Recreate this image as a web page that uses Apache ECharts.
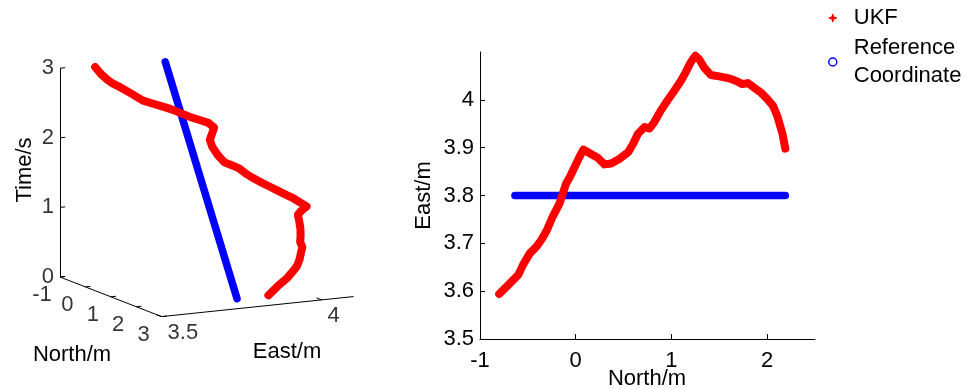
<!DOCTYPE html>
<html>
<head>
<meta charset="utf-8">
<script src="https://cdn.jsdelivr.net/npm/echarts@6/dist/echarts.min.js"></script>
<style>
  html, body { margin: 0; padding: 0; background: #fff; }
  #chart { width: 966px; height: 389px; }
</style>
</head>
<body>
<div id="chart"></div>
<script>
// UKF track
const ukfNorth = [-0.80, -0.74, -0.67, -0.60, -0.55, -0.48, -0.41, -0.36, -0.30, -0.24, -0.17, -0.10, -0.06, -0.01, 0.04, 0.08, 0.15, 0.23, 0.30, 0.37, 0.46, 0.55, 0.60, 0.65, 0.72, 0.77, 0.82, 0.89, 0.96, 1.03, 1.10, 1.15, 1.20, 1.25, 1.29, 1.34, 1.41, 1.50, 1.60, 1.67, 1.74, 1.80, 1.86, 1.93, 2.00, 2.06, 2.11, 2.16, 2.19]
const ukfEast = [3.594, 3.606, 3.620, 3.634, 3.655, 3.679, 3.693, 3.707, 3.728, 3.756, 3.783, 3.825, 3.839, 3.860, 3.881, 3.896, 3.888, 3.879, 3.865, 3.867, 3.877, 3.891, 3.908, 3.929, 3.943, 3.940, 3.953, 3.978, 3.999, 4.019, 4.040, 4.058, 4.078, 4.092, 4.085, 4.068, 4.052, 4.049, 4.045, 4.040, 4.033, 4.035, 4.026, 4.016, 4.002, 3.988, 3.964, 3.929, 3.898]
const ukfTime = [3.00, 2.91, 2.83, 2.77, 2.71, 2.63, 2.58, 2.53, 2.49, 2.44, 2.39, 2.29, 2.26, 2.22, 2.18, 2.11, 2.09, 2.08, 1.98, 1.89, 1.78, 1.68, 1.64, 1.59, 1.52, 1.51, 1.48, 1.40, 1.34, 1.28, 1.22, 1.17, 1.10, 1.05, 1.04, 1.01, 0.97, 0.90, 0.80, 0.72, 0.64, 0.57, 0.50, 0.42, 0.34, 0.30, 0.21, 0.11, 0.00]

// reference coordinate (end points)
const refNorth = [-0.635, 2.19]
const refEast = [3.8, 3.8]
const refTime = [3, 0]

// tick labels
const northTicks3d = [-1, 0, 1, 2, 3]
const eastTicks3d = [3.5, 4]
const timeTicks = [0, 1, 2, 3]
const northTicks2d = [-1, 0, 1, 2]
const eastTicks2d = [3.5, 3.6, 3.7, 3.8, 3.9, 4]

const northRange = [-1, 3]
const eastRange = [3.5, 4.1]
const timeRange = [0, 3]

const FONT = 'Liberation Sans, Arial, sans-serif'
const FS = 22
const RED = '#ff0000'
const BLUE = '#0000ff'

// simple oblique projection for the 3D panel (no echarts-gl available)
function proj(n, e, t) {
  const dn = n - northRange[0]
  const de = e - eastRange[0]
  return [dn * 25.4 + de * 320, -dn * 9.9 + de * 33.4 + t * 69.6]
}

const ukf3d = ukfNorth.map((n, i) => proj(n, ukfEast[i], ukfTime[i]))
const ref3d = refNorth.map((n, i) => proj(n, refEast[i], refTime[i]))
const ukf2d = ukfNorth.map((n, i) => [n, ukfEast[i]])
const ref2d = refNorth.map((n, i) => [n, refEast[i]])

// box axes + ticks of the 3D panel
const n0 = northRange[0], n1 = northRange[1], e0 = eastRange[0], e1 = eastRange[1]
const axisSegs = [
  [proj(n0, e0, timeRange[0]), proj(n0, e0, timeRange[1])],
  [proj(n0, e0, 0), proj(n1, e0, 0)],
  [proj(n1, e0, 0), proj(n1, e1, 0)]
]
timeTicks.forEach(t => axisSegs.push([proj(n0, e0, t), proj(n0, e0 + 0.016, t)]))
northTicks3d.forEach(n => axisSegs.push([proj(n, e0, 0), proj(n, e0 + 0.016, 0)]))
eastTicks3d.forEach(e => axisSegs.push([proj(n1, e, 0), proj(n1 - 0.2, e, 0)]))

const tickLabels3d = []
timeTicks.forEach(t => tickLabels3d.push({ value: proj(n0, e0, t), text: String(t), align: 'right', offset: [-6, 0] }))
northTicks3d.forEach(n => tickLabels3d.push({ value: proj(n, e0, 0), text: String(n), align: 'center', offset: [-18, 18] }))
eastTicks3d.forEach(e => tickLabels3d.push({ value: proj(n1, e, 0), text: String(e), align: 'left', offset: [6, 16] }))

const chart = echarts.init(document.getElementById('chart'))

const titleStyle = (text) => ({ text: text, fontSize: FS, fontFamily: FONT, fill: '#000', textAlign: 'center', textVerticalAlign: 'middle' })

const option = {
  animation: false,
  backgroundColor: '#fff',
  textStyle: { fontFamily: FONT },
  legend: {
    orient: 'vertical',
    left: 828,
    top: 4,
    padding: 0,
    itemGap: 2,
    itemWidth: 8,
    itemHeight: 8,
    selectedMode: false,
    textStyle: { fontSize: FS, color: '#000', lineHeight: 28, padding: [0, 0, 0, 12], fontFamily: FONT },
    data: [
      { name: 'UKF', icon: 'path://M4,0 L5,3 L8,4 L5,5 L4,8 L3,5 L0,4 L3,3 Z', itemStyle: { color: RED, borderColor: RED, borderWidth: 1 } },
      { name: 'Reference\nCoordinate', icon: 'circle', itemStyle: { color: '#fff', borderColor: BLUE, borderWidth: 1.5 } }
    ]
  },
  // axis titles (3D panel has no real echarts axes; right panel x title sits half outside the canvas)
  graphic: [
    { type: 'text', x: 25, y: 170, rotation: Math.PI / 2, style: titleStyle('Time/s') },
    { type: 'text', x: 72, y: 355, style: titleStyle('North/m') },
    { type: 'text', x: 287, y: 352, style: titleStyle('East/m') },
    { type: 'text', x: 647, y: 379, style: titleStyle('North/m') }
  ],
  grid: [
    { left: 480, right: 151, top: 52, bottom: 50, containLabel: false, outerBoundsMode: 'none' },
    { left: 0, top: 0, width: 400, height: 389, containLabel: false, outerBoundsMode: 'none' }
  ],
  xAxis: [
    {
      gridIndex: 0,
      type: 'value',
      min: -1,
      max: 2.5,
      interval: 1,
      axisLine: { onZero: false, lineStyle: { color: '#000', width: 1 } },
      axisTick: { inside: true, length: 5, lineStyle: { color: '#000' }, customValues: northTicks2d },
      axisLabel: { fontSize: FS, color: '#000', margin: 11, fontFamily: FONT, customValues: northTicks2d },
      splitLine: { show: false }
    },
    { gridIndex: 1, type: 'value', min: -60, max: 340, show: false }
  ],
  yAxis: [
    {
      gridIndex: 0,
      type: 'value',
      min: 3.5,
      max: 4.1,
      interval: 0.1,
      name: 'East/m',
      nameLocation: 'middle',
      nameGap: 45,
      nameTextStyle: { fontSize: FS, color: '#000', fontFamily: FONT },
      axisLine: { show: true, onZero: false, lineStyle: { color: '#000', width: 1 } },
      axisTick: { show: true, inside: true, length: 5, lineStyle: { color: '#000' }, customValues: eastTicks2d },
      axisLabel: { fontSize: FS, color: '#000', margin: 6, fontFamily: FONT, customValues: eastTicks2d },
      splitLine: { show: false }
    },
    { gridIndex: 1, type: 'value', min: -112, max: 277, show: false }
  ],
  series: [
    // 3D panel
    {
      type: 'lines',
      coordinateSystem: 'cartesian2d',
      xAxisIndex: 1,
      yAxisIndex: 1,
      silent: true,
      lineStyle: { color: '#000', width: 1, opacity: 1 },
      data: axisSegs.map(s => ({ coords: s }))
    },
    {
      type: 'scatter',
      xAxisIndex: 1,
      yAxisIndex: 1,
      silent: true,
      symbolSize: 1,
      itemStyle: { color: 'rgba(0,0,0,0)' },
      data: tickLabels3d.map(d => ({
        value: d.value,
        label: { show: true, position: 'inside', formatter: d.text, align: d.align, offset: d.offset, fontSize: FS, color: '#000', fontFamily: FONT }
      }))
    },
    {
      name: 'Reference\nCoordinate',
      type: 'line',
      xAxisIndex: 1,
      yAxisIndex: 1,
      data: ref3d,
      showSymbol: false,
      clip: false,
      lineStyle: { color: BLUE, width: 7.5, cap: 'round' },
      itemStyle: { color: BLUE }
    },
    {
      name: 'UKF',
      type: 'line',
      xAxisIndex: 1,
      yAxisIndex: 1,
      data: ukf3d,
      showSymbol: false,
      clip: false,
      lineStyle: { color: RED, width: 8, cap: 'round', join: 'round' },
      itemStyle: { color: RED }
    },
    // 2D panel
    {
      name: 'Reference\nCoordinate',
      type: 'line',
      xAxisIndex: 0,
      yAxisIndex: 0,
      data: ref2d,
      showSymbol: false,
      clip: false,
      lineStyle: { color: BLUE, width: 7.5, cap: 'round' },
      itemStyle: { color: BLUE }
    },
    {
      name: 'UKF',
      type: 'line',
      xAxisIndex: 0,
      yAxisIndex: 0,
      data: ukf2d,
      showSymbol: false,
      clip: false,
      lineStyle: { color: RED, width: 8, cap: 'round', join: 'round' },
      itemStyle: { color: RED }
    }
  ]
}

chart.setOption(option)
</script>
</body>
</html>
